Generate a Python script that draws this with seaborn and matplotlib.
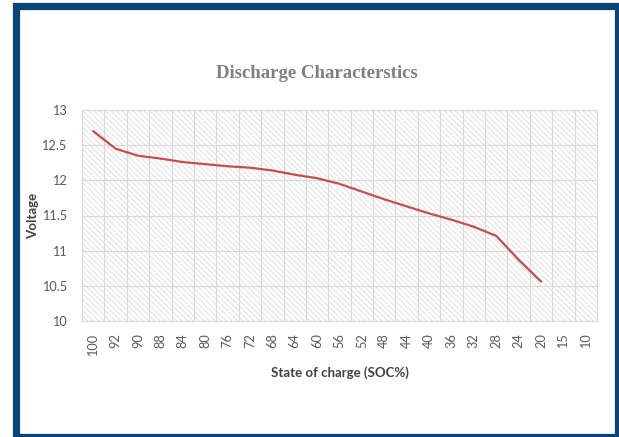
import numpy as np
import pandas as pd
import matplotlib
matplotlib.use("Agg")
import matplotlib.pyplot as plt
import seaborn as sns
from matplotlib.patches import Rectangle

categories = ["100", "92", "90", "88", "84", "80", "76", "72", "68", "64", "60",
              "56", "52", "48", "44", "40", "36", "32", "28", "24", "20", "15", "10"]
voltage = [12.70, 12.45, 12.35, 12.31, 12.26, 12.23, 12.20, 12.18, 12.14, 12.08, 12.03,
           11.95, 11.84, 11.73, 11.63, 11.53, 11.44, 11.34, 11.21, 10.87, 10.56]
y_ticks = [10, 10.5, 11, 11.5, 12, 12.5, 13]
y_tick_labels = ["10", "10.5", "11", "11.5", "12", "12.5", "13"]

sns.set_theme(style="white")
plt.rcParams["font.family"] = ["Lato", "DejaVu Sans"]
plt.rcParams["hatch.linewidth"] = 0.45

W, H = 619, 437
fig = plt.figure(figsize=(W / 100, H / 100), dpi=100)
fig.patch.set_facecolor("white")

# outer dark blue frame
frame_col = "#0B4479"
fig.patches.append(Rectangle((16 / W, 0), (618 - 16) / W, (437 - 6) / H,
                             transform=fig.transFigure, fill=False,
                             edgecolor=frame_col, linewidth=5.2, zorder=0))

ax = fig.add_axes([82 / W, 1 - 321 / H, (597 - 82) / W, (321 - 110) / H])
ax.set_facecolor("white")

# hatched background of the plot area
ax.add_patch(Rectangle((0, 0), 1, 1, transform=ax.transAxes, facecolor="white",
                       edgecolor="#CFCFCF", linewidth=0, hatch="\\\\\\\\\\\\", zorder=0))

df = pd.DataFrame({"pos": np.arange(len(voltage)), "voltage": voltage})
sns.lineplot(data=df, x="pos", y="voltage", ax=ax, color="#C0504D", linewidth=1.6,
             zorder=3)

ax.set_xlim(-0.5, len(categories) - 0.5)
ax.set_ylim(10, 13)
ax.set_xticks(np.arange(len(categories)))
ax.set_xticklabels(categories, rotation=90, color="#595959", fontsize=9.2)
ax.set_xticks(np.arange(-0.5, len(categories), 1), minor=True)
ax.set_yticks(y_ticks)
ax.set_yticklabels(y_tick_labels, color="#595959", fontsize=9.2)
ax.tick_params(axis="x", which="both", length=0, pad=9)
ax.tick_params(axis="y", length=0, pad=11)
ax.grid(False)
ax.xaxis.grid(True, which="minor", color="#D9D9D9", linewidth=0.8)
ax.yaxis.grid(True, which="major", color="#D9D9D9", linewidth=0.8)
ax.set_axisbelow(False)
for s in ax.spines.values():
    s.set_color("#D9D9D9")
    s.set_linewidth(0.8)
ax.set_xlabel("")
ax.set_ylabel("")

fig.text(340 / W, 1 - 373 / H, "State of charge (SOC%)", ha="center", va="center",
         fontsize=9.5, fontweight="bold", color="#404040")
fig.text(33 / W, 1 - 216 / H, "Voltage", ha="center", va="center", rotation=90,
         fontsize=9.5, fontweight="bold", color="#404040")
fig.text(317 / W, 1 - 73 / H, "Discharge Characterstics", ha="center", va="center",
         fontsize=13.5, fontweight="bold", color="#7F7F7F",
         family=["Liberation Serif", "DejaVu Serif"])

fig.savefig("out.png", dpi=100)
